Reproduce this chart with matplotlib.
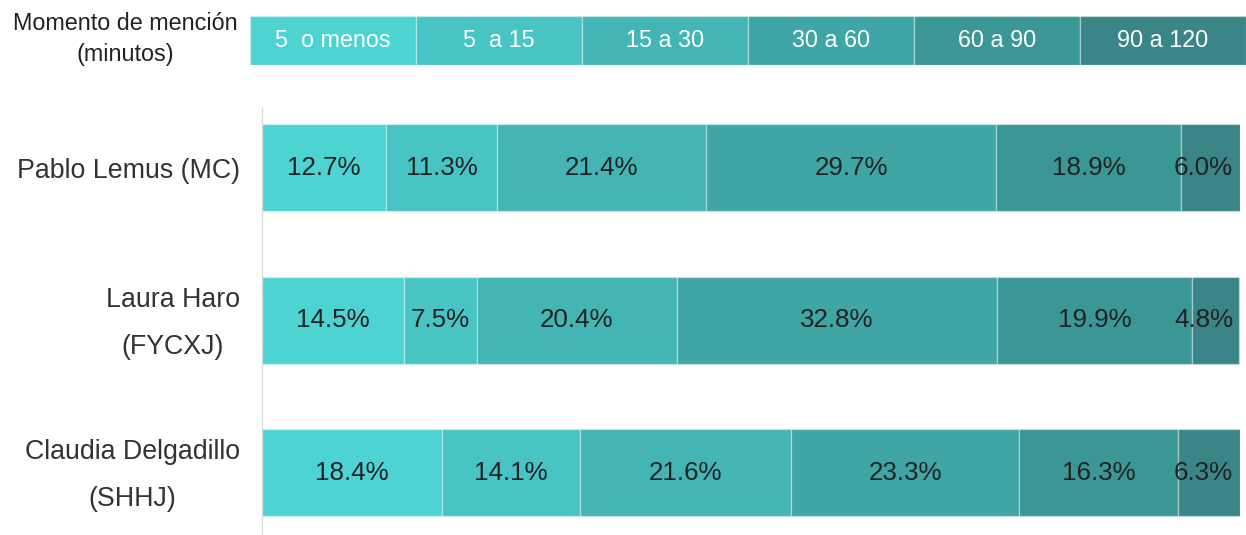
import numpy as np
import matplotlib.pyplot as plt
import matplotlib.transforms as mtransforms

plt.rcParams['font.family'] = ['Liberation Sans', 'DejaVu Sans']

# datos
candidatos = ['Pablo Lemus (MC)', 'Laura Haro\n(FYCXJ)', 'Claudia Delgadillo\n(SHHJ)']
rangos = ['5  o menos', '5  a 15', '15 a 30', '30 a 60', '60 a 90', '90 a 120']
pablo = [12.7, 11.3, 21.4, 29.7, 18.9, 6.0]
laura = [14.5, 7.5, 20.4, 32.8, 19.9, 4.8]
claudia = [18.4, 14.1, 21.6, 23.3, 16.3, 6.3]
colores = ['#4ed3d3', '#48c4c4', '#43b5b5', '#3fa5a5', '#3b9696', '#3a8585']

valores = np.array([pablo, laura, claudia])

fig = plt.figure(figsize=(12.46, 5.35), dpi=100)

# ===== leyenda arriba =====
axl = fig.add_axes([250/1246, 1-65/535, 996/1246, 49/535])
for i, (r, c) in enumerate(zip(rangos, colores)):
    axl.barh(0, 1, left=i, height=1, color=c, edgecolor=(1, 1, 1, 0.35), linewidth=1)
    axl.text(i + 0.5, 0, r, ha='center', va='center', color='white', fontsize=16.8)
axl.set_xlim(0, len(rangos))
axl.set_ylim(-0.5, 0.5)
axl.axis('off')
fig.text(125/1246, 1-39/535, 'Momento de mención\n(minutos)', ha='center', va='center',
         fontsize=16.8, color='#222222', linespacing=1.4)

# ===== barras =====
ax = fig.add_axes([262/1246, 0, 978/1246, 427/535])
y = np.arange(len(candidatos))
izq = np.zeros(len(candidatos))
for j, c in enumerate(colores):
    ax.barh(y, valores[:, j], left=izq, height=0.57, color=c,
            edgecolor=(1, 1, 1, 0.35), linewidth=1)
    for k in range(len(candidatos)):
        v = valores[k, j]
        if j == len(colores) - 1:
            ax.text(99.3, y[k], f'{v:.1f}%', ha='right', va='center',
                    fontsize=18.7, color='#222222')
        else:
            ax.text(izq[k] + v / 2, y[k], f'{v:.1f}%', ha='center', va='center',
                    fontsize=18.7, color='#222222')
    izq += valores[:, j]

ax.set_xlim(0, 100)
ax.set_ylim(2.407, -0.393)
ax.set_xticks([])
ax.set_yticks([])

# etiquetas de candidatos a mano (un poco mas abajo que el centro)
trans = mtransforms.blended_transform_factory(ax.transAxes, ax.transData)
trans = trans + mtransforms.ScaledTranslation(-22/100, -3/100, fig.dpi_scale_trans)
for k, nombre in enumerate(candidatos):
    ax.text(0, y[k], nombre, transform=trans, ha='right', va='center',
            multialignment='center', fontsize=19.3, color='#333333', linespacing=2.05)

for s in ['top', 'right', 'bottom']:
    ax.spines[s].set_visible(False)
ax.spines['left'].set_color('#d9d9d9')

plt.savefig('out.png', dpi=100)
